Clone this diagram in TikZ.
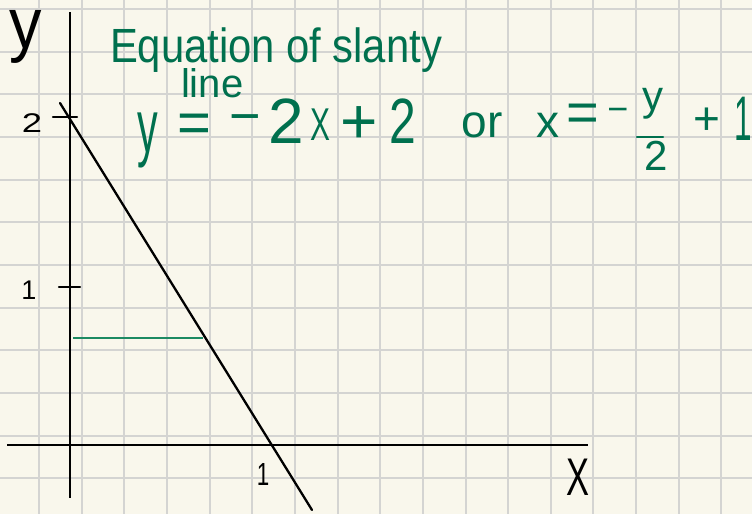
\documentclass[tikz,border=0pt]{standalone}
\usepackage{fontspec}
\setmainfont{Liberation Sans}
\usepackage{graphicx}
\definecolor{paper}{RGB}{249,247,236}
\definecolor{gridc}{RGB}{212,212,210}
\definecolor{ink}{RGB}{0,112,78}
\definecolor{inkline}{RGB}{28,138,98}
\newcommand{\myfs}[1]{\fontsize{#1}{#1}\selectfont}
\tikzset{
  gridline/.style={draw=gridc, line width=2pt},
  axis/.style={draw=black, line width=2.3pt},
  pen/.style={draw=black, line width=2.3pt, line cap=round},
  greenpen/.style={draw=inkline, line width=2.2pt},
  fracpen/.style={draw=ink, line width=2.4pt, line cap=round},
  gtext/.style={text=ink, inner sep=0pt, outer sep=0pt},
  btext/.style={text=black, inner sep=0pt, outer sep=0pt},
}
\begin{document}
\begin{tikzpicture}[x=1pt,y=-1pt]
\fill[paper] (0,0) rectangle (752,514);
\useasboundingbox (0,0) rectangle (752,514);
% grid
\foreach \i in {0,...,16} \draw[gridline] ({39+42.65*\i},0) -- ({39+42.65*\i},514);
\foreach \j in {0,...,11} \draw[gridline] (0,{9+42.65*\j}) -- (752,{9+42.65*\j});
% axes
\coordinate (ytop) at (70,12);
\coordinate (ybot) at (70,498);
\coordinate (xleft) at (7,445);
\coordinate (xright) at (588,445);
\draw[axis] (ytop) -- (ybot);
\draw[axis] (xleft) -- (xright);
% slanted line
\coordinate (sa) at (60,103);
\coordinate (sb) at (312,510);
\draw[pen] (sa) -- (sb);
% ticks
\coordinate (t2a) at (53,117); \coordinate (t2b) at (77,117);
\coordinate (t1a) at (59,287); \coordinate (t1b) at (80,287);
\draw[pen] (t2a) -- (t2b);
\draw[pen] (t1a) -- (t1b);
% green horizontal
\coordinate (ga) at (73,338); \coordinate (gb) at (203,338);
\draw[greenpen] (ga) -- (gb);
% black labels
\node[btext, font=\myfs{72}, anchor=base] (ylab) at (26,48) {\scalebox{0.9}[1]{y}};
\node[btext, font=\myfs{27}, anchor=base] (ytwo) at (32,132) {\scalebox{1.35}[1]{2}};
\node[btext, font=\myfs{27}, anchor=base] (yone) at (29,299) {1};
\node[btext, font=\myfs{32}, anchor=base] (xone) at (263,485) {\scalebox{0.7}[1]{1}};
\node[btext, font=\myfs{53}, anchor=base] (xlab) at (578,495) {\scalebox{0.65}[1]{X}};
% green text
\node[gtext, font=\myfs{48}, anchor=base west] (title1) at (110,62) {\scalebox{0.87}[1]{Equation of slanty}};
\node[gtext, font=\myfs{40}, anchor=base west] (title2) at (181,97) {line};
\node[gtext, font=\myfs{75}, anchor=base] (ey) at (148,152) {\scalebox{0.55}[1]{y}};
\node[gtext, font=\myfs{58}] (eqa) at (194,128) {=};
\node[gtext, font=\myfs{54}] (ma) at (245,125) {−};
\node[gtext, font=\myfs{64}, anchor=base] (dtwoa) at (286,143) {2};
\node[gtext, font=\myfs{46}, anchor=base] (ex) at (320,140) {\scalebox{0.65}[1]{X}};
\node[gtext, font=\myfs{64}] (pa) at (359,125) {+};
\node[gtext, font=\myfs{64}, anchor=base] (dtwob) at (403,143) {\scalebox{0.75}[1]{2}};
\node[gtext, font=\myfs{46}, anchor=base] (or) at (482,137) {or};
\node[gtext, font=\myfs{46}, anchor=base] (xb) at (548,137) {x};
\node[gtext, font=\myfs{56}] (eqb) at (583,118) {=};
\node[gtext, font=\myfs{36}] (mb) at (618,115) {−};
\node[gtext, font=\myfs{42}, anchor=base] (fy) at (653,110) {y};
\coordinate (barl) at (637,137); \coordinate (barr) at (663,137);
\draw[fracpen] (barl) -- (barr);
\node[gtext, font=\myfs{42}, anchor=base] (ftwo) at (656,170) {2};
\node[gtext, font=\myfs{46}] (pb) at (707,121) {+};
\node[gtext, font=\myfs{63}, anchor=base] (oneb) at (743,140) {\scalebox{0.5}[1]{1}};
\end{tikzpicture}
\end{document}
